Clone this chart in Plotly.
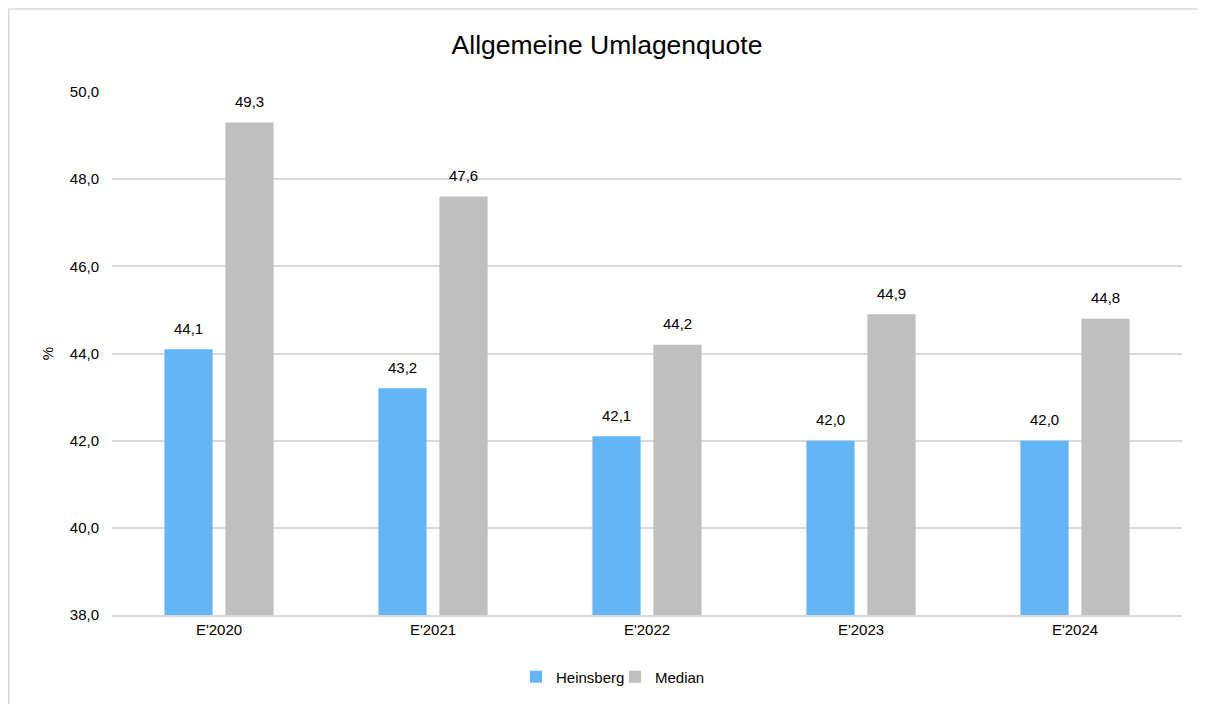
import plotly.graph_objects as go

categories = ["E'2020", "E'2021", "E'2022", "E'2023", "E'2024"]
heinsberg = [44.1, 43.2, 42.1, 42.0, 42.0]
median = [49.3, 47.6, 44.2, 44.9, 44.8]
series_names = ["Heinsberg", "Median"]
colors = ["#64B5F6", "#BFBFBF"]
y_ticks = [38, 40, 42, 44, 46, 48, 50]

W, H = 1198, 696  # page adds 8px body margin
L, R, T, B = 104, 24, 84, 88
PW, PH = W - L - R, H - T - B

fig = go.Figure()
for name, vals, col in zip(series_names, [heinsberg, median], colors):
    fig.add_trace(go.Bar(x=categories, y=vals, name=name, marker_color=col,
                         marker_line_width=0, hoverinfo="skip"))

annotations = []
for vals, shift in [(heinsberg, -30.5), (median, 30.5)]:
    for c, v in zip(categories, vals):
        annotations.append(dict(x=c, y=v, text=f"{v:.1f}".replace(".", ","),
                                showarrow=False, xshift=shift, yshift=21,
                                yanchor="middle", font=dict(size=15, color="#000000")))

fig.update_layout(
    width=W, height=H,
    paper_bgcolor="white", plot_bgcolor="white",
    font=dict(family="Liberation Sans, Arial, sans-serif", color="#000000", size=15),
    title=dict(text="Allgemeine Umlagenquote", x=0.5, xanchor="center",
               y=1 - 37/H, yanchor="middle", font=dict(size=26.5)),
    margin=dict(l=L, r=R, t=T, b=B),
    barmode="group", bargap=0.43, bargroupgap=0.21,
    separators=",.",
    annotations=annotations,
    legend=dict(orientation="h", x=(615 - 8 - L) / PW, xanchor="center",
                y=-(669 - 608) / PH, yanchor="middle",
                font=dict(size=15), itemwidth=30, entrywidth=54, traceorder="normal"),
    showlegend=True,
)
fig.update_yaxes(range=[38, 50], tickvals=y_ticks, tickformat=".1f",
                 showgrid=True, gridcolor="#D9D9D9", gridwidth=1.5,
                 zeroline=False, showline=False, ticks="", ticklen=0, ticklabelstandoff=12,
                 title=dict(text="%", font=dict(size=15), standoff=12))
fig.update_xaxes(showline=True, linecolor="#D9D9D9", linewidth=1.5, ticks="",
                 tickfont=dict(size=15))
fig.add_shape(type="rect", xref="paper", yref="paper",
              x0=(0.75 - L) / PW, x1=(W + 100 - L) / PW,
              y0=-(H + 100 - T - PH) / PH, y1=(T + PH - 0.75) / PH,
              line=dict(color="#D9D9D9", width=1.5), fillcolor="rgba(0,0,0,0)", layer="below")

fig.write_html("out.html")
